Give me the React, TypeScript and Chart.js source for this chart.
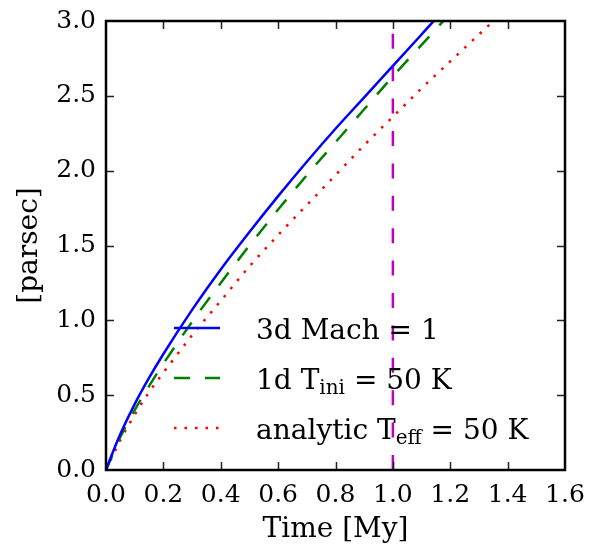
import React, { useEffect, useRef } from "react";
import { Chart, registerables } from "chart.js";
Chart.register(...registerables);

// Time [My]
const times = [0, 0.02, 0.05, 0.1, 0.15, 0.2, 0.3, 0.4, 0.5, 0.6, 0.7, 0.8, 0.9, 1.0, 1.1, 1.2, 1.3, 1.4];
// radius [parsec]
const mach3d = [0, 0.10, 0.24, 0.44, 0.615, 0.775, 1.07, 1.34, 1.59, 1.83, 2.06, 2.28, 2.49, 2.70, 2.91, 3.12, 3.32, 3.51];
const tini1d = [0, 0.09, 0.22, 0.40, 0.56, 0.71, 0.99, 1.25, 1.50, 1.74, 1.97, 2.19, 2.41, 2.63, 2.84, 3.05, 3.26, 3.46];
const analytic = [0, 0.08, 0.20, 0.37, 0.52, 0.65, 0.90, 1.13, 1.36, 1.57, 1.77, 1.97, 2.17, 2.36, 2.55, 2.73, 2.91, 3.09];
const markerTime = [1.0, 1.0];
const markerRange = [0, 3.0];

const xTicks = [0, 0.2, 0.4, 0.6, 0.8, 1.0, 1.2, 1.4, 1.6];
const yTicks = [0, 0.5, 1.0, 1.5, 2.0, 2.5, 3.0];

// legend label parts: [normal, subscript, normal]
const legendLabels = [
  ["3d Mach = 1", "", ""],
  ["1d T", "ini", " = 50 K"],
  ["analytic T", "eff", " = 50 K"],
];

const FONT = "'DejaVu Serif', serif";

const styles = [
  { color: "#0000ff", width: 2.5, dash: [] as number[] },
  { color: "#008000", width: 2.5, dash: [16, 15] },
  { color: "#ff0000", width: 2.5, dash: [2.5, 8] },
];

const framePlugin = {
  id: "framePlugin",
  afterDraw(chart: any) {
    const { ctx, chartArea } = chart;
    const { left, right, top, bottom } = chartArea;
    const xs = chart.scales.x;
    const ys = chart.scales.y;
    ctx.save();
    // inward ticks on all four sides
    ctx.strokeStyle = "#222";
    ctx.lineWidth = 1.5;
    const tl = 8;
    xTicks.slice(1, -1).forEach((v) => {
      const px = Math.round(xs.getPixelForValue(v)) + 0.5;
      ctx.beginPath();
      ctx.moveTo(px, bottom);
      ctx.lineTo(px, bottom - tl);
      ctx.moveTo(px, top);
      ctx.lineTo(px, top + tl);
      ctx.stroke();
    });
    yTicks.slice(1, -1).forEach((v) => {
      const py = Math.round(ys.getPixelForValue(v)) + 0.5;
      ctx.beginPath();
      ctx.moveTo(left, py);
      ctx.lineTo(left + tl, py);
      ctx.moveTo(right, py);
      ctx.lineTo(right - tl, py);
      ctx.stroke();
    });
    // frame
    ctx.strokeStyle = "#000";
    ctx.lineWidth = 2.5;
    ctx.strokeRect(left, top, right - left, bottom - top);

    // legend (no frame)
    const rowY0 = 328;
    const rowStep = 50;
    const lineX0 = 174;
    const lineX1 = 220;
    const textX = 256;
    legendLabels.forEach((parts, i) => {
      const y = rowY0 + i * rowStep;
      const st = styles[i];
      ctx.strokeStyle = st.color;
      ctx.lineWidth = st.width;
      ctx.setLineDash(st.dash);
      ctx.beginPath();
      ctx.moveTo(lineX0, y);
      ctx.lineTo(lineX1, y);
      ctx.stroke();
      ctx.setLineDash([]);
      ctx.fillStyle = "#000";
      ctx.textBaseline = "alphabetic";
      ctx.textAlign = "left";
      let x = textX;
      const base = y + 11;
      ctx.font = `28px ${FONT}`;
      ctx.fillText(parts[0], x, base);
      x += ctx.measureText(parts[0]).width;
      if (parts[1]) {
        ctx.font = `20px ${FONT}`;
        ctx.fillText(parts[1], x, base + 5);
        x += ctx.measureText(parts[1]).width;
      }
      if (parts[2]) {
        ctx.font = `28px ${FONT}`;
        ctx.fillText(parts[2], x, base);
      }
    });
    ctx.restore();
  },
};

export default function App() {
  const ref = useRef<HTMLCanvasElement>(null);
  useEffect(() => {
    if (!ref.current) return;
    const mk = (vals: number[]) => times.map((t, i) => ({ x: t, y: vals[i] }));
    const chart = new Chart(ref.current, {
      type: "line",
      data: {
        datasets: [
          {
            label: "3d Mach = 1",
            data: mk(mach3d),
            borderColor: styles[0].color,
            borderWidth: styles[0].width,
            borderDash: styles[0].dash,
            pointRadius: 0,
            cubicInterpolationMode: "monotone",
            fill: false,
          },
          {
            label: "1d Tini = 50 K",
            data: mk(tini1d),
            borderColor: styles[1].color,
            borderWidth: styles[1].width,
            borderDash: styles[1].dash,
            pointRadius: 0,
            cubicInterpolationMode: "monotone",
            fill: false,
          },
          {
            label: "analytic Teff = 50 K",
            data: mk(analytic),
            borderColor: styles[2].color,
            borderWidth: styles[2].width,
            borderDash: styles[2].dash,
            pointRadius: 0,
            cubicInterpolationMode: "monotone",
            fill: false,
          },
          {
            label: "t = 1 My",
            data: markerTime.map((t, i) => ({ x: t, y: markerRange[i] })),
            borderColor: "#bf00bf",
            borderWidth: 2.5,
            borderDash: [15, 17.4],
            pointRadius: 0,
            fill: false,
          },
        ],
      },
      options: {
        animation: false,
        responsive: false,
        events: [],
        layout: { padding: { left: 0, right: 24, top: 21, bottom: 0 } },
        plugins: { legend: { display: false }, tooltip: { enabled: false } },
        scales: {
          x: {
            type: "linear",
            min: 0,
            max: 1.6,
            afterFit: (s: any) => {
              s.height = 78;
              s.paddingLeft = 0;
              s.paddingRight = 0;
            },
            afterBuildTicks: (s: any) => {
              s.ticks = xTicks.map((v) => ({ value: v }));
            },
            ticks: {
              autoSkip: false,
              maxRotation: 0,
              padding: 10,
              color: "#000",
              font: { family: FONT, size: 25 },
              callback: (v: any) => Number(v).toFixed(1),
            },
            grid: { display: false, drawTicks: false },
            border: { display: false },
            title: {
              display: true,
              text: "Time [My]",
              color: "#000",
              font: { family: FONT, size: 28 },
              padding: { top: 0, bottom: 1 },
            },
          },
          y: {
            type: "linear",
            min: 0,
            max: 3,
            afterFit: (s: any) => {
              s.width = 106;
              s.paddingTop = 0;
              s.paddingBottom = 0;
            },
            afterBuildTicks: (s: any) => {
              s.ticks = yTicks.map((v) => ({ value: v }));
            },
            ticks: {
              autoSkip: false,
              padding: 10,
              color: "#000",
              font: { family: FONT, size: 25 },
              callback: (v: any) => Number(v).toFixed(1),
            },
            grid: { display: false, drawTicks: false },
            border: { display: false },
            title: {
              display: true,
              text: "[parsec]",
              color: "#000",
              font: { family: FONT, size: 28 },
              padding: { top: 13, bottom: 0 },
            },
          },
        },
      },
      plugins: [framePlugin],
    } as any);
    return () => chart.destroy();
  }, []);
  return (
    <div style={{ position: "absolute", left: 0, top: 0, width: 589, height: 548, background: "#fff" }}>
      <canvas ref={ref} width={589} height={548} />
    </div>
  );
}
